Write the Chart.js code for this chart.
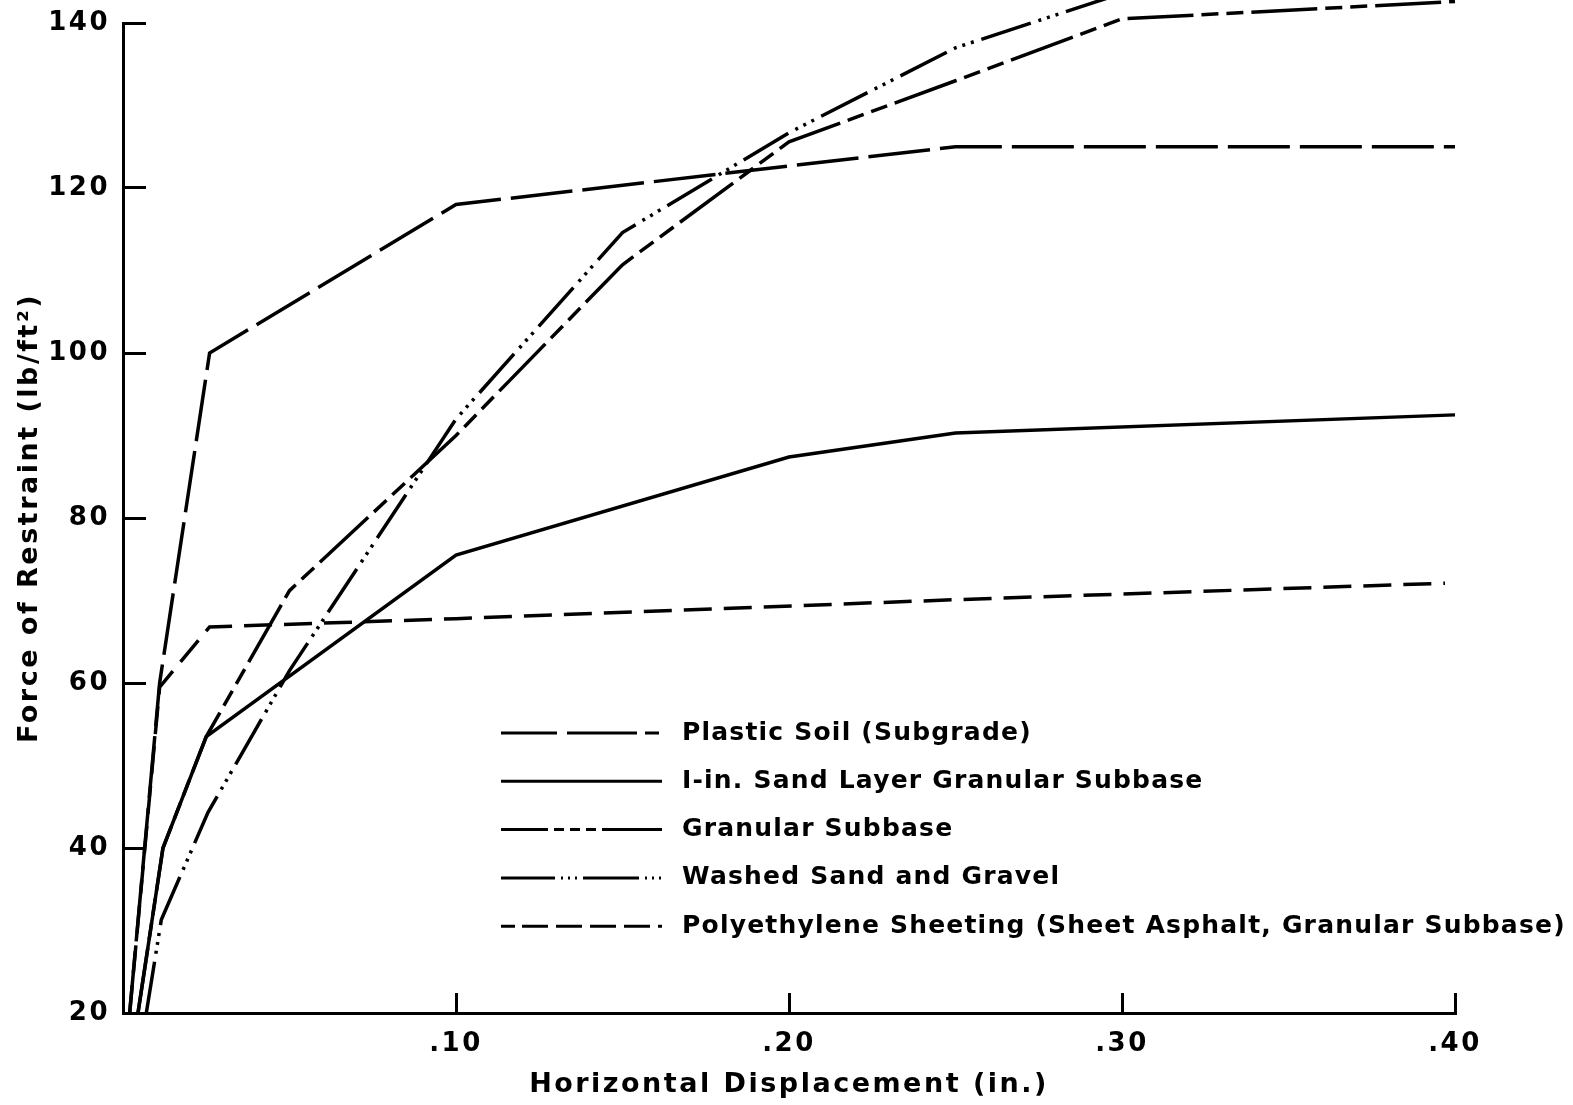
<!DOCTYPE html>
<html>
<head>
<meta charset="utf-8">
<script src="https://cdn.jsdelivr.net/npm/chart.js@4/dist/chart.umd.min.js"></script>
<style>
  html, body { margin: 0; padding: 0; background: #fff; }
</style>
</head>
<body>
<canvas id="grafico" width="1573" height="1105"></canvas>
<script>
// nomes das curvas (ordem da legenda)
var nomes = ['Plastic Soil (Subgrade)', 'I-in. Sand Layer Granular Subbase', 'Granular Subbase', 'Washed Sand and Gravel', 'Polyethylene Sheeting (Sheet Asphalt, Granular Subbase)'];

// deslocamento (in.) e força (lb/ft2)
var plasticoX = [0.002, 0.011, 0.026, 0.10, 0.25, 0.40];
var plasticoY = [20, 60, 100, 118, 125, 125];

var areiaX = [0.0045, 0.012, 0.025, 0.10, 0.20, 0.25, 0.40];
var areiaY = [20, 40, 53.5, 75.5, 87.4, 90.3, 92.5];

var granularX = [0.0045, 0.012, 0.025, 0.05, 0.10, 0.15, 0.20, 0.25, 0.30, 0.40];
var granularY = [20, 40, 53.5, 71.2, 90, 110.7, 125.6, 133, 140.5, 142.6];

var lavadaX = [0.007, 0.0115, 0.0255, 0.05, 0.10, 0.15, 0.20, 0.25, 0.30, 0.40];
var lavadaY = [20, 31.3, 44.3, 61.5, 92, 114.6, 126.7, 137, 143.6, 147];

var polietilenoX = [0.002, 0.011, 0.026, 0.10, 0.25, 0.397];
var polietilenoY = [20, 59.5, 66.8, 67.8, 70.1, 72.1];

var ticksY = [20, 40, 60, 80, 100, 120, 140];
var ticksX = ['', '.10', '.20', '.30', '.40'];

function pontos(xs, ys) {
    return xs.map(function (x, i) { return { x: x, y: ys[i] }; });
}

var fonte = '"DejaVu Sans", "Liberation Sans", sans-serif';

// letras espaçadas como no desenho original
var espacamento = {
    id: 'espacamento',
    beforeUpdate: function (chart) { chart.ctx.letterSpacing = '2.5px'; },
    beforeDraw: function (chart) { chart.ctx.letterSpacing = '2.5px'; }
};

var legendaInterna = {
    id: 'legendaInterna',
    afterDatasetsDraw: function (chart) {
        var ctx = chart.ctx;
        ctx.save();
        chart.data.datasets.forEach(function (ds, i) {
            var y = 733 + i * 48.3;
            ctx.strokeStyle = '#000';
            ctx.lineWidth = 3;
            ctx.setLineDash(ds.legendaDash);
            ctx.beginPath();
            ctx.moveTo(501, y);
            ctx.lineTo(662, y);
            ctx.stroke();
            ctx.setLineDash([]);
            ctx.fillStyle = '#000';
            ctx.font = 'bold 25px ' + fonte;
            ctx.letterSpacing = '1.2px';
            ctx.textBaseline = 'middle';
            ctx.fillText(ds.label, 682, y);
        });
        ctx.restore();
    }
};

var ctx = document.getElementById('grafico');
var grafico = new Chart(ctx, {
    type: 'line',
    data: {
        datasets: [{
            label: nomes[0],
            data: pontos(plasticoX, plasticoY),
            borderDash: [62, 10],
            legendaDash: [56, 10, 70, 8, 14, 8]
        }, {
            label: nomes[1],
            data: pontos(areiaX, areiaY),
            borderDash: [],
            legendaDash: []
        }, {
            label: nomes[2],
            data: pontos(granularX, granularY),
            borderDash: [66, 8, 17, 8, 17, 8],
            legendaDash: [47, 6, 10, 6, 10, 6, 10, 6, 60]
        }, {
            label: nomes[3],
            data: pontos(lavadaX, lavadaY),
            borderDash: [52, 8, 3, 6, 3, 6, 3, 8],
            legendaDash: [54, 6, 2, 5, 2, 5, 2, 6, 56, 6, 2, 5, 2, 5, 2]
        }, {
            label: nomes[4],
            data: pontos(polietilenoX, polietilenoY),
            borderDash: [28, 12],
            legendaDash: [14, 7, 26, 8, 26, 8, 26, 8, 26, 8, 30]
        }]
    },
    options: {
        responsive: false,
        animation: false,
        layout: { padding: { top: 23, right: 118, left: 0, bottom: 0 } },
        elements: {
            point: { radius: 0 },
            line: { tension: 0, borderWidth: 3.5, borderColor: '#000', fill: false }
        },
        datasets: { line: { clip: false } },
        plugins: {
            legend: { display: false },
            tooltip: { enabled: false }
        },
        scales: {
            x: {
                type: 'linear',
                min: 0,
                max: 0.4,
                ticks: {
                    stepSize: 0.1,
                    padding: 36,
                    color: '#000',
                    font: { family: fonte, size: 26, weight: 'bold' },
                    callback: function (v) { return ticksX[Math.round(v * 10)]; }
                },
                grid: { drawOnChartArea: false, tickLength: -20, lineWidth: 3, color: '#000' },
                border: { display: true, color: '#000', width: 3 },
                title: {
                    display: true,
                    text: 'Horizontal Displacement (in.)',
                    color: '#000',
                    font: { family: fonte, size: 27, weight: 'bold' },
                    padding: { top: 0, bottom: 4 }
                },
                afterFit: function (s) { s.height = 92; }
            },
            y: {
                type: 'linear',
                min: 20,
                max: 140,
                afterBuildTicks: function (s) { s.ticks = ticksY.map(function (v) { return { value: v }; }); },
                ticks: {
                    padding: 36,
                    color: '#000',
                    font: { family: fonte, size: 26, weight: 'bold' }
                },
                grid: { drawOnChartArea: false, tickLength: -23, lineWidth: 3, color: '#000' },
                border: { display: true, color: '#000', width: 3 },
                title: {
                    display: true,
                    text: 'Force of Restraint (lb/ft²)',
                    color: '#000',
                    font: { family: fonte, size: 27, weight: 'bold' },
                    padding: { top: 14, bottom: 0 }
                },
                afterFit: function (s) {
                    s.width = 123;
                    s.paddingTop = 0;
                    s.paddingBottom = 0;
                }
            }
        }
    },
    plugins: [espacamento, legendaInterna]
});
</script>
</body>
</html>
